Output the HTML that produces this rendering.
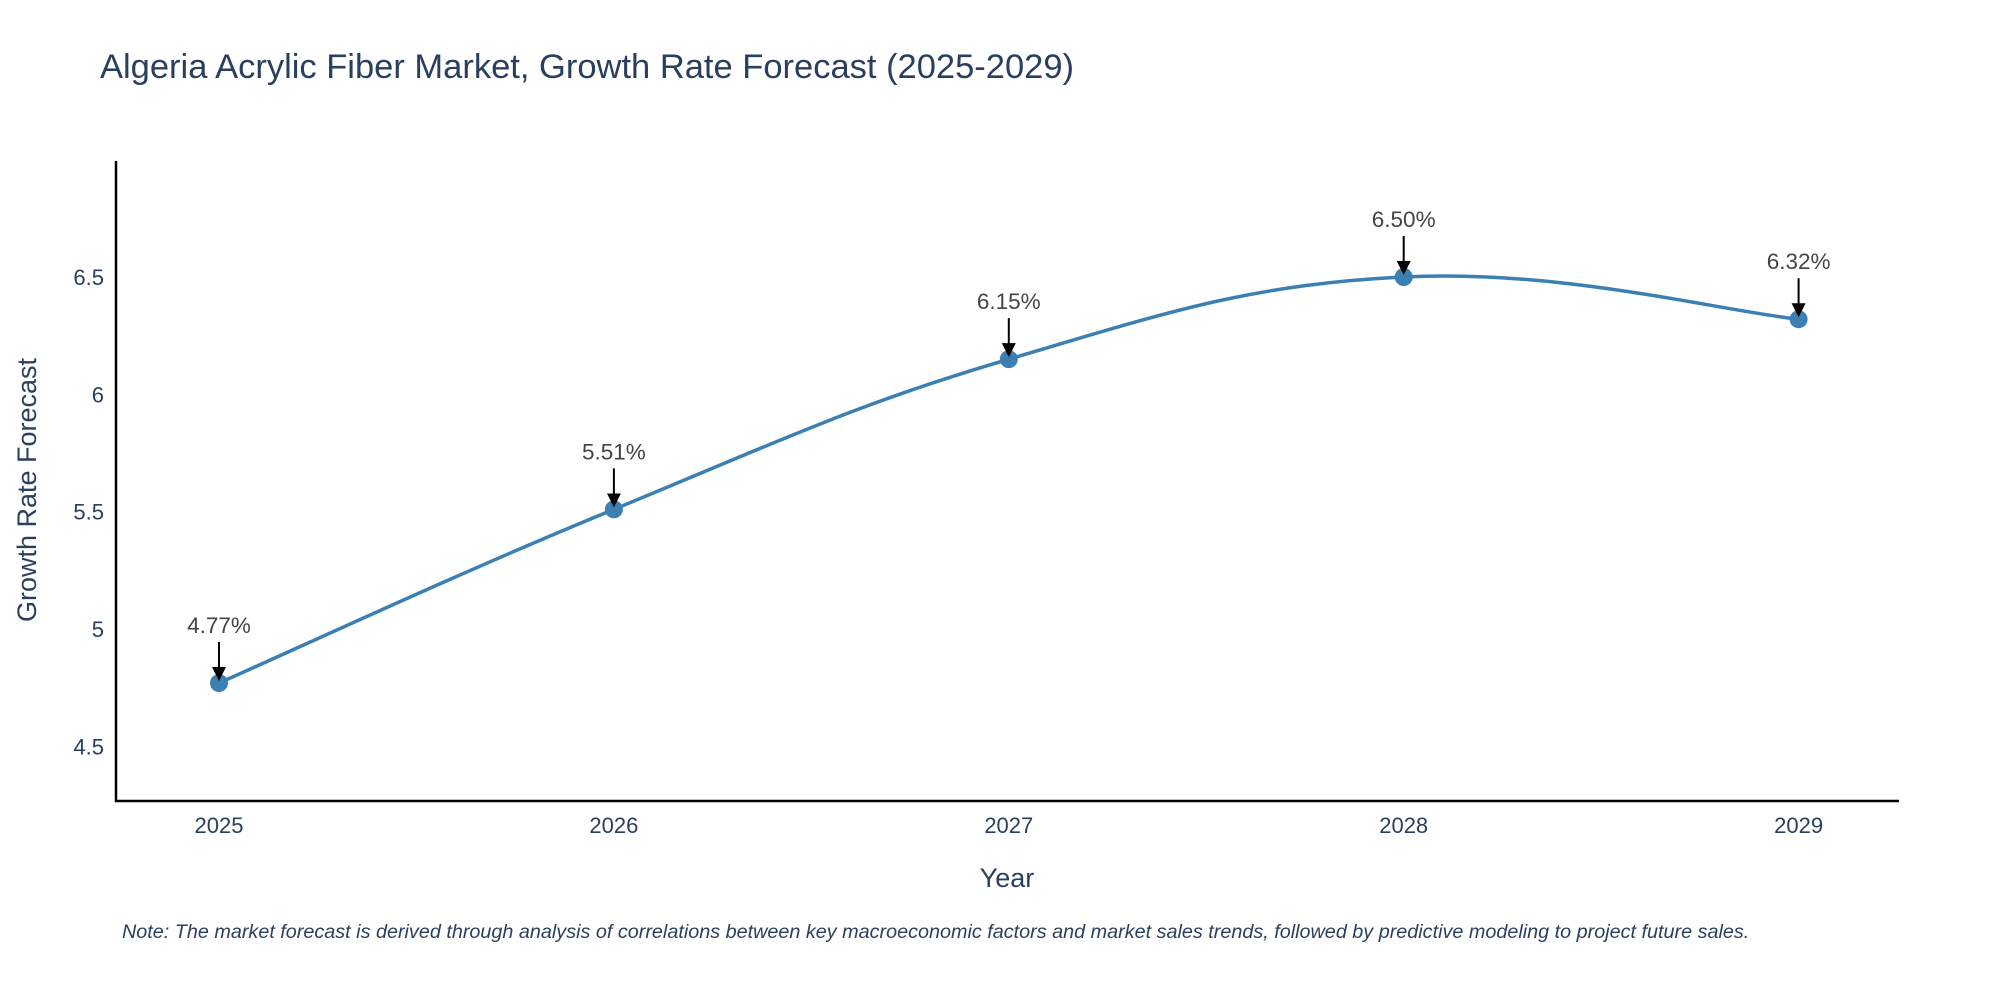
<!DOCTYPE html>
<html><head><meta charset="utf-8"><style>
body{margin:0;background:#fff;}
svg text{font-family:"Liberation Sans",sans-serif;}
</style></head><body>
<svg id="chart" width="2000" height="1000" xmlns="http://www.w3.org/2000/svg">
<text x="100" y="78" font-size="34.5" fill="#2a3f5f">Algeria Acrylic Fiber Market, Growth Rate Forecast (2025-2029)</text>
<g id="ticks"></g>
<line x1="116" y1="161" x2="116" y2="802" stroke="#000" stroke-width="2.5"/>
<line x1="115" y1="801" x2="1899" y2="801" stroke="#000" stroke-width="2.5"/>
<path id="line" fill="none" stroke="#3b7fb3" stroke-width="3.5"/>
<g id="marks"></g>
<text x="1007" y="887" font-size="27" fill="#2a3f5f" text-anchor="middle">Year</text>
<text transform="translate(36,490) rotate(-90)" font-size="27" fill="#2a3f5f" text-anchor="middle">Growth Rate Forecast</text>
<text x="122" y="938" font-size="19.8" font-style="italic" fill="#2a3f5f">Note: The market forecast is derived through analysis of correlations between key macroeconomic factors and market sales trends, followed by predictive modeling to project future sales.</text>
<defs><marker id="ah" markerWidth="14" markerHeight="14" refX="10" refY="7" orient="auto" markerUnits="userSpaceOnUse" viewBox="0 0 14 14"><path d="M0,0 L14,7 L0,14 z" fill="#000"/></marker></defs>
</svg>
<script>
const years=[2025,2026,2027,2028,2029];
const values=[4.77,5.51,6.15,6.50,6.32];
const labels=["4.77%","5.51%","6.15%","6.50%","6.32%"];
const yTicks=[4.5,5,5.5,6,6.5];
const ns="http://www.w3.org/2000/svg";
function xs(v){return 219+(v-2025)*394.9;}
function ys(v){return 277+(6.5-v)*234.7;}
const svg=document.getElementById('chart');
const tg=document.getElementById('ticks');
function mk(tag,attrs,parent){const e=document.createElementNS(ns,tag);for(const k in attrs)e.setAttribute(k,attrs[k]);parent.appendChild(e);return e;}
yTicks.forEach(t=>{const e=mk('text',{x:104,y:ys(t)+8,'font-size':22,fill:'#2a3f5f','text-anchor':'end'},tg);e.textContent=String(t);

});
years.forEach(t=>{const e=mk('text',{x:xs(t),y:833,'font-size':22,fill:'#2a3f5f','text-anchor':'middle'},tg);e.textContent=String(t);

});
const pts=years.map((y,i)=>[xs(y),ys(values[i])]);
let d='M'+pts[0][0]+','+pts[0][1];const k=0.2;
for(let i=0;i<pts.length-1;i++){const p0=pts[Math.max(0,i-1)],p1=pts[i],p2=pts[i+1],p3=pts[Math.min(pts.length-1,i+2)];
const c1=[p1[0]+(p2[0]-p0[0])*k,p1[1]+(p2[1]-p0[1])*k];const c2=[p2[0]-(p3[0]-p1[0])*k,p2[1]-(p3[1]-p1[1])*k];
d+=' C'+c1+' '+c2+' '+p2;}
document.getElementById('line').setAttribute('d',d);
const mg=document.getElementById('marks');
pts.forEach((p,i)=>{const c=mk('circle',{cx:p[0],cy:p[1],r:9,fill:'#3b7fb3'},mg);


const a=mk('line',{x1:p[0],y1:p[1]-41,x2:p[0],y2:p[1]-6,stroke:'#000','stroke-width':2,'marker-end':'url(#ah)'},mg);


const t=mk('text',{x:p[0],y:p[1]-50,'font-size':22.5,fill:'#444','text-anchor':'middle'},mg);t.textContent=labels[i];

});
</script>
</body></html>
